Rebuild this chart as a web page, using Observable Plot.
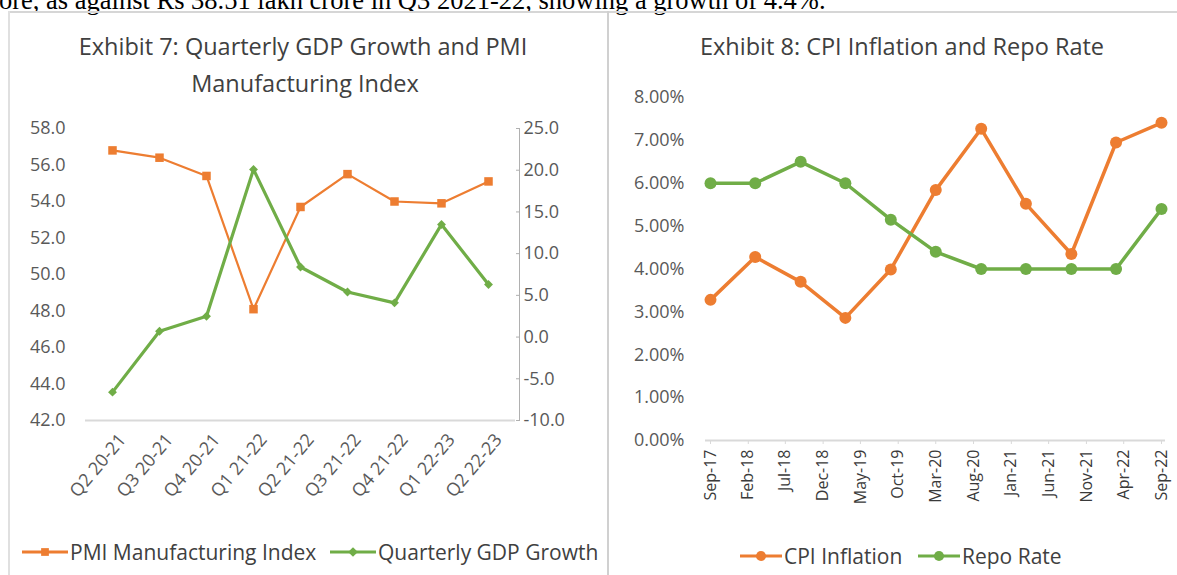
<!DOCTYPE html>
<html><head><meta charset="utf-8">
<script src="https://cdn.jsdelivr.net/npm/d3@7"></script>
<script src="https://cdn.jsdelivr.net/npm/@observablehq/plot@0.6"></script>
<style>
html,body{margin:0;padding:0;background:#fff;}
body{width:1177px;height:575px;overflow:hidden;position:relative;font-family:"Open Sans",sans-serif;}
#lead{position:absolute;left:-1px;top:-13px;font-family:"Liberation Serif","Times New Roman",serif;font-size:26.5px;line-height:26px;color:#000;white-space:nowrap;}
#frameTop{position:absolute;left:8px;right:0;top:11px;height:0;border-top:2px solid #d6d6d6;}
#frameLeft{position:absolute;left:8px;top:11px;bottom:0;border-left:2px solid #e0e0e0;}
#sep{position:absolute;left:607px;top:11px;bottom:0;border-left:2px solid #d0d0d0;}
.chart{position:absolute;top:14px;}
.title{position:absolute;text-align:center;color:#404040;font-size:23.5px;line-height:37px;white-space:nowrap;transform:translateX(-50%);}
.leg{position:absolute;display:flex;align-items:center;font-size:21px;color:#404040;white-space:nowrap;}
.leg svg{margin-right:2px;}
</style></head><body>
<div id="lead"></div>
<div id="frameTop"></div><div id="frameLeft"></div><div id="sep"></div>
<div id="c7" class="chart" style="left:10px"></div>
<div id="c8" class="chart" style="left:609px"></div>
<div class="title" id="t7a" style="left:303px;top:28px"></div>
<div class="title" id="t7b" style="left:305px;top:65px"></div>
<div class="title" id="t8" style="left:902px;top:28px"></div>
<div id="legends"></div>
<script>
// ---------- Data ----------
const leadText = "ore, as against Rs 38.51 lakh crore in Q3 2021-22, showing a growth of 4.4%.";

const title7 = ["Exhibit 7: Quarterly GDP Growth and PMI", "Manufacturing Index"];
const quarters = ["Q2 20-21","Q3 20-21","Q4 20-21","Q1 21-22","Q2 21-22","Q3 21-22","Q4 21-22","Q1 22-23","Q2 22-23"];
const pmi = [56.8, 56.4, 55.4, 48.1, 53.7, 55.5, 54.0, 53.9, 55.1];
const gdp = [-6.6, 0.7, 2.5, 20.1, 8.4, 5.4, 4.1, 13.5, 6.3];
const pmiTicks = [42, 44, 46, 48, 50, 52, 54, 56, 58];
const gdpTicks = [-10, -5, 0, 5, 10, 15, 20, 25];
const series7 = ["PMI Manufacturing Index", "Quarterly GDP Growth"];

const title8 = "Exhibit 8: CPI Inflation and Repo Rate";
const months = ["2017-09","2018-03","2018-09","2019-03","2019-09","2020-03","2020-09","2021-03","2021-09","2022-03","2022-09"];
const cpi = [3.28, 4.28, 3.70, 2.86, 3.99, 5.84, 7.27, 5.52, 4.35, 6.95, 7.41];
const repo = [6.00, 6.00, 6.50, 6.00, 5.15, 4.40, 4.00, 4.00, 4.00, 4.00, 5.40];
const pctTicks = [0, 1, 2, 3, 4, 5, 6, 7, 8];
const monthTicks = ["2017-09","2018-02","2018-07","2018-12","2019-05","2019-10","2020-03","2020-08","2021-01","2021-06","2021-11","2022-04","2022-09"];
const series8 = ["CPI Inflation", "Repo Rate"];

const ORANGE = "#ED7D31", GREEN = "#70AD47";

document.getElementById("lead").textContent = leadText;
document.getElementById("t7a").textContent = title7[0];
document.getElementById("t7b").textContent = title7[1];
document.getElementById("t8").textContent = title8;

// ---------- Exhibit 7 ----------
const L = [pmiTicks[0], pmiTicks[pmiTicks.length-1]];
const R = [gdpTicks[0], gdpTicks[gdpTicks.length-1]];
const toLeft = v => L[0] + (v - R[0]) * (L[1]-L[0]) / (R[1]-R[0]);
const fromLeft = v => R[0] + (v - L[0]) * (R[1]-R[0]) / (L[1]-L[0]);
const rows7 = quarters.map((q, i) => ({q, pmi: pmi[i], gdp: gdp[i]}));

const chart7 = Plot.plot({
  width: 597, height: 561,
  marginLeft: 75, marginRight: 92, marginTop: 114, marginBottom: 155,
  style: {fontFamily: "Open Sans", fontSize: "18px", color: "#595959", background: "transparent", overflow: "visible"},
  x: {type: "point", domain: quarters, padding: 0.5, label: null},
  y: {domain: L, label: null},
  marks: [
    Plot.ruleY([L[0]], {stroke: "#d9d9d9", strokeWidth: 2}),
    Plot.axisY(pmiTicks, {anchor: "left", tickSize: 0, tickPadding: 20, tickFormat: d => d.toFixed(1), fill: "#595959", fontSize: 18, label: null}),
    Plot.axisY(gdpTicks.map(toLeft), {anchor: "right", tickSize: 4, tickPadding: 4, stroke: "#b0b0b0", fill: "#595959", fontSize: 18, label: null,
      tickFormat: d => ((Math.round(fromLeft(d) * 10) / 10) || 0).toFixed(1)}),
    Plot.frame({anchor: "right", stroke: "#b0b0b0", dx: 4}),
    Plot.axisX(quarters, {anchor: "bottom", tickSize: 0, tickRotate: -50, tickPadding: 16, dx: 10, fill: "#595959", fontSize: 18, label: null}),
    Plot.line(rows7, {x: "q", y: "pmi", stroke: ORANGE, strokeWidth: 2.2}),
    Plot.dot(rows7, {x: "q", y: "pmi", symbol: "square", r: 4.8, fill: ORANGE}),
    Plot.line(rows7, {x: "q", y: d => toLeft(d.gdp), stroke: GREEN, strokeWidth: 3.2}),
    Plot.dot(rows7, {x: "q", y: d => toLeft(d.gdp), symbol: "diamond2", r: 4, fill: GREEN})
  ]
});
document.getElementById("c7").append(chart7);

// ---------- Exhibit 8 ----------
const parse = d3.utcParse("%Y-%m");
const rows8 = months.map((m, i) => ({date: parse(m), cpi: cpi[i], repo: repo[i]}));
const chart8 = Plot.plot({
  width: 568, height: 561,
  marginLeft: 101, marginRight: 16, marginTop: 83, marginBottom: 135,
  style: {fontFamily: "Open Sans", fontSize: "17px", color: "#595959", background: "transparent", overflow: "visible"},
  x: {type: "utc", domain: [parse(monthTicks[0]), parse(monthTicks[monthTicks.length-1])], label: null},
  y: {domain: [pctTicks[0], pctTicks[pctTicks.length-1]], label: null},
  marks: [
    Plot.axisY(pctTicks, {anchor: "left", tickSize: 0, tickPadding: 26, tickFormat: d => d.toFixed(2) + "%", fill: "#595959", fontSize: 18, letterSpacing: 0.8, label: null}),
    Plot.axisX(monthTicks.map(parse), {anchor: "bottom", tickSize: 4, tickPadding: 5, tickRotate: -90, stroke: "#d9d9d9",
      tickFormat: d3.utcFormat("%b-%y"), fill: "#3a3a3a", fontSize: 16, label: null}),
    Plot.ruleY([0], {stroke: "#d9d9d9", strokeWidth: 2, insetLeft: -5, insetRight: -4}),
    Plot.line(rows8, {x: "date", y: "cpi", stroke: ORANGE, strokeWidth: 3.5}),
    Plot.dot(rows8, {x: "date", y: "cpi", r: 6, fill: ORANGE}),
    Plot.line(rows8, {x: "date", y: "repo", stroke: GREEN, strokeWidth: 3.5}),
    Plot.dot(rows8, {x: "date", y: "repo", r: 6, fill: GREEN})
  ]
});
document.getElementById("c8").append(chart8);

// ---------- Legends ----------
function sample(color, symbol, width) {
  const s = d3.create("svg").attr("width", width).attr("height", 14);
  s.append("line").attr("x1", 0).attr("x2", width).attr("y1", 7).attr("y2", 7).attr("stroke", color).attr("stroke-width", 3);
  s.append("path").attr("transform", `translate(${width/2},7)`).attr("fill", color)
    .attr("d", d3.symbol(symbol, symbol === d3.symbolCircle ? 80 : 60)());
  return s.node();
}
const legendItems = [
  {label: series7[0], color: ORANGE, symbol: d3.symbolSquare, left: 22, top: 538, w: 46},
  {label: series7[1], color: GREEN, symbol: d3.symbolDiamond2, left: 330, top: 538, w: 46},
  {label: series8[0], color: ORANGE, symbol: d3.symbolCircle, left: 740, top: 542, w: 42},
  {label: series8[1], color: GREEN, symbol: d3.symbolCircle, left: 918, top: 542, w: 42}
];
const legHost = document.getElementById("legends");
for (const it of legendItems) {
  const div = document.createElement("div");
  div.className = "leg";
  div.style.left = it.left + "px";
  div.style.top = it.top + "px";
  div.append(sample(it.color, it.symbol, it.w));
  const span = document.createElement("span");
  span.textContent = it.label;
  div.append(span);
  legHost.append(div);
}
</script>
</body></html>
